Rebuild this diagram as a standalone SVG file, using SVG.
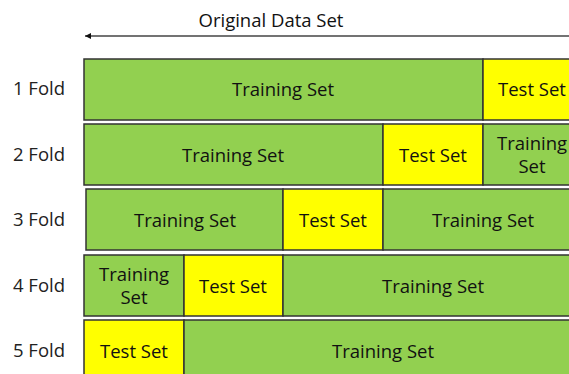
<svg xmlns="http://www.w3.org/2000/svg" width="569" height="374" viewBox="0 0 569 374">
<style>
text{font-family:"Open Sans","Noto Sans",sans-serif;font-size:18.5px;fill:#111;text-anchor:middle}
.lbl{fill:#222}
.tr{fill:#92D050;stroke:#333;stroke-width:1.5}
.te{fill:#FFFF00;stroke:#333;stroke-width:1.5}
</style>
<defs>
<marker id="ah" viewBox="0 0 10 10" refX="10" refY="5" markerWidth="6" markerHeight="6" orient="auto" markerUnits="userSpaceOnUse">
<path d="M0,0 L10,5 L0,10 Z" fill="#111"/>
</marker>
</defs>
<g id="connectors">
<line x1="569" y1="36" x2="85" y2="36" stroke="#444" stroke-width="1.5" marker-end="url(#ah)"/>
</g>
<text x="271" y="27">Original Data Set</text>
<g id="labels">
<text class="lbl" x="39" y="95">1 Fold</text>
<text class="lbl" x="39" y="161">2 Fold</text>
<text class="lbl" x="39" y="226">3 Fold</text>
<text class="lbl" x="39" y="292">4 Fold</text>
<text class="lbl" x="39" y="357">5 Fold</text>
</g>
<g id="fold1">
<rect class="tr" x="84" y="59" width="399" height="61"/>
<rect class="te" x="483" y="59" width="100" height="61"/>
<text x="283" y="96">Training Set</text>
<text x="532" y="96">Test Set</text>
</g>
<g id="fold2">
<rect class="tr" x="84" y="124" width="299" height="61"/>
<rect class="te" x="383" y="124" width="100" height="61"/>
<rect class="tr" x="483" y="124" width="100" height="61"/>
<text x="233" y="162">Training Set</text>
<text x="433" y="162">Test Set</text>
<text x="532" y="150">Training</text>
<text x="532" y="173">Set</text>
</g>
<g id="fold3">
<rect class="tr" x="86" y="189" width="197" height="61"/>
<rect class="te" x="283" y="189" width="100" height="61"/>
<rect class="tr" x="383" y="189" width="200" height="61"/>
<text x="185" y="227">Training Set</text>
<text x="333" y="227">Test Set</text>
<text x="483" y="227">Training Set</text>
</g>
<g id="fold4">
<rect class="tr" x="84" y="255" width="100" height="61"/>
<rect class="te" x="184" y="255" width="99" height="61"/>
<rect class="tr" x="283" y="255" width="300" height="61"/>
<text x="134" y="281">Training</text>
<text x="134" y="304">Set</text>
<text x="233" y="293">Test Set</text>
<text x="433" y="293">Training Set</text>
</g>
<g id="fold5">
<rect class="te" x="84" y="320" width="100" height="60"/>
<rect class="tr" x="184" y="320" width="400" height="60"/>
<text x="134" y="358">Test Set</text>
<text x="383" y="358">Training Set</text>
</g>
</svg>
